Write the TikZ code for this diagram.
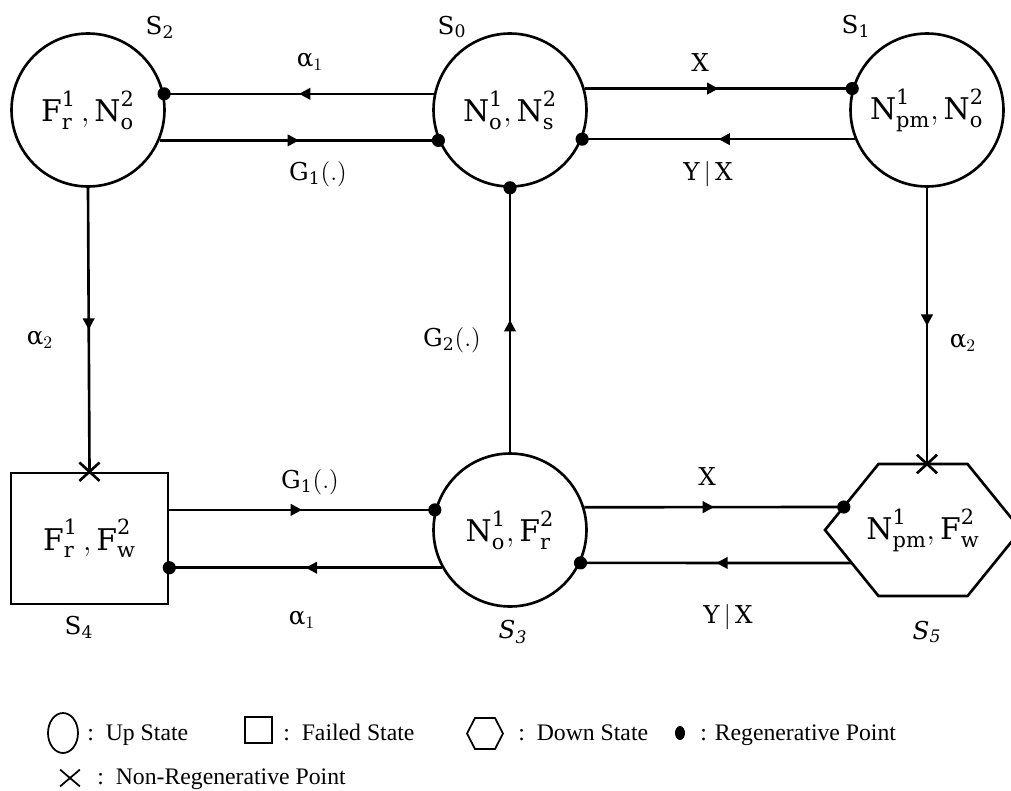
\documentclass[tikz,border=0pt]{standalone}
\usepackage{fontspec}
\setmainfont{DejaVu Serif}
\newfontfamily\legendfont{Liberation Serif}
\usetikzlibrary{arrows.meta,decorations.markings,shapes.misc,shapes.geometric,calc}
\newcommand{\alp}{\mbox{α}}
\tikzset{
  state/.style={circle, draw, line width=1.5pt, minimum size=3.06cm, inner sep=0pt, font=\fontsize{17}{19}\selectfont},
  failbox/.style={rectangle, draw, line width=1.5pt, minimum width=3.14cm, minimum height=2.62cm, inner sep=0pt, font=\fontsize{17}{19}\selectfont},
  hexlabel/.style={inner sep=0pt, font=\fontsize{17}{19}\selectfont},
  lbl/.style={inner sep=0pt, font=\fontsize{14}{16}\selectfont},
  conn/.style={line width=1.5pt, postaction={decorate},
    decoration={markings, mark=at position 0.5 with {\arrow{Triangle[length=6.5pt,width=6.5pt]}}}},
  regen/.style={circle, fill, inner sep=0pt, minimum size=7.5pt},
  nonregen/.style={cross out, draw, line width=1.5pt, minimum width=10pt, minimum height=9pt, inner sep=0pt},
  legtext/.style={anchor=base west, inner sep=0pt, font=\legendfont\fontsize{13.5}{15}\selectfont},
}
\begin{document}
\begin{tikzpicture}[x=0.02cm,y=-0.02cm]
\useasboundingbox (0,0) rectangle (1011,791);
% states
\node[state] (S2) at (88,110) {$\mathrm{F_r^1\,,N_o^2}$};
\node[state] (S0) at (510,110) {$\mathrm{N_o^1,N_s^2}$};
\node[state] (S1) at (927,110) {$\mathrm{N_{pm}^1,N_o^2}$};
\node[state] (S3) at (510,530) {$\mathrm{N_o^1,F_r^2}$};
\node[failbox] (S4) at (89.5,538.5) {$\mathrm{F_r^1\,,F_w^2}$};
\node[hexlabel] (S5) at (923,530) {$\mathrm{N_{pm}^1,F_w^2}$};
\draw[line width=1.5pt] ($(S5)+(-98,0)$) -- ($(S5)+(-44.5,-66)$) -- ($(S5)+(44.5,-66)$)
  -- ($(S5)+(98,0)$) -- ($(S5)+(44.5,66)$) -- ($(S5)+(-44.5,66)$) -- cycle;
\coordinate (S5t) at ($(S5)+(0,-66)$);
\coordinate (S5a) at ($(S5)+(-79.2,-23)$);
\coordinate (S5b) at ($(S5)+(-71,33)$);
% state labels
\node[lbl] (l2) at (160,27) {$\mathrm{S_2}$};
\node[lbl] (l0) at (452,27) {$\mathrm{S_0}$};
\node[lbl] (l1) at (856,26) {$\mathrm{S_1}$};
\node[lbl] (l4) at (79,627) {$\mathrm{S_4}$};
\node[lbl] (l3) at (513,632) {$\mathit{S_3}$};
\node[lbl] (l5) at (927,632) {$\mathit{S_5}$};
% top connectors
\draw[conn] (S0.168) -- (S2.12);
\node[regen] (d1) at (S2.12) {};
\draw[conn] (S2.-23) -- (S0.203);
\node[regen] (d2) at (S0.203) {};
\draw[conn] (S0.16) -- (S1.164);
\node[regen] (d3) at (S1.164) {};
\draw[conn] (S1.202) -- (S0.-22);
\node[regen] (d4) at (S0.-22) {};
\node[lbl] (ta) at (310,62) {$\alp_1$};
\node[lbl] (tg) at (318,174) {$\mathrm{G_1(.)}$};
\node[lbl] (tx) at (700,63) {$\mathrm{X}$};
\node[lbl] (ty) at (708,174) {$\mathrm{Y\,|\,X}$};
% vertical connectors
\draw[conn] (S2.south) -- (S4.north);
\node[nonregen] (c1) at (S4.north) {};
\draw[conn] (S3.north) -- (S0.south);
\node[regen] (d5) at (S0.south) {};
\draw[conn] (S1.south) -- (S1.south |- S5t);
\node[nonregen] (c2) at (S1.south |- S5t) {};
\node[lbl] (va) at (40,340) {$\alp_2$};
\node[lbl] (vg) at (452,340) {$\mathrm{G_2(.)}$};
\node[lbl] (vb) at (963,343) {$\alp_2$};
% bottom connectors
\draw[conn] (S4.east |- S3.165) -- (S3.165);
\node[regen] (d6) at (S3.165) {};
\draw[conn] (S3.209) -- (S4.east |- S3.209);
\node[regen] (d7) at (S4.east |- S3.209) {};
\draw[conn] (S3.17.5) -- (S5a);
\node[regen] (d8) at (S5a) {};
\draw[conn] (S5b) -- (S3.-25.6);
\node[regen] (d9) at (S3.-25.6) {};
\node[lbl] (bg) at (310,482) {$\mathrm{G_1(.)}$};
\node[lbl] (ba) at (302,620) {$\alp_1$};
\node[lbl] (bx) at (707,477) {$\mathrm{X}$};
\node[lbl] (by) at (728,617) {$\mathrm{Y\,|\,X}$};
% legend
\node[ellipse, draw, line width=1pt, minimum width=0.6cm, minimum height=0.8cm, inner sep=0pt] (k1) at (63,733) {};
\node[legtext] (k1t) at (87,740) {:\ \ Up State};
\node[rectangle, draw, line width=1pt, minimum width=0.54cm, minimum height=0.52cm, inner sep=0pt] (k2) at (258.5,730) {};
\node[legtext] (k2t) at (283,740) {:\ \ Failed State};
\coordinate (k3) at (485,733.5);
\draw[line width=1pt] ($(k3)+(-18,0)$) -- ($(k3)+(-10,-15.5)$) -- ($(k3)+(10,-15.5)$) -- ($(k3)+(18,0)$)
  -- ($(k3)+(10,15.5)$) -- ($(k3)+(-10,15.5)$) -- cycle;
\node[legtext] (k3t) at (518,740) {:\ \ Down State};
\node[ellipse, fill, minimum width=0.2cm, minimum height=0.28cm, inner sep=0pt] (k4) at (680,733) {};
\node[legtext] (k4t) at (700,740) {: Regenerative Point};
\node[cross out, draw, line width=1pt, minimum width=0.36cm, minimum height=0.3cm, inner sep=0pt] (k5) at (70,778) {};
\node[legtext] (k5t) at (97,784) {:\ \ Non-Regenerative Point};
\end{tikzpicture}
\end{document}
